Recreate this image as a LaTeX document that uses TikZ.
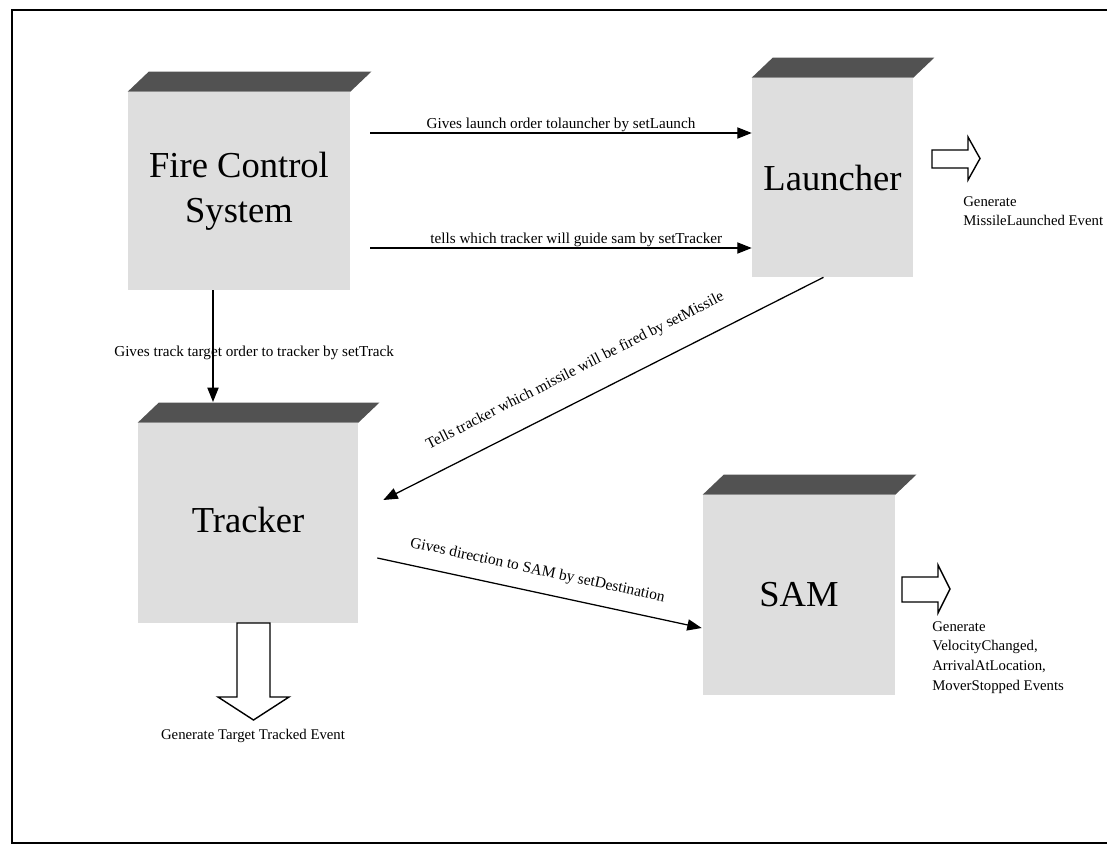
\documentclass[tikz,border=0pt]{standalone}
\usepackage{fontspec}
\setmainfont{Liberation Serif}
\usetikzlibrary{arrows.meta,positioning,calc}
\tikzset{
  blk style/.style={rectangle, fill=black!13, inner sep=0pt, align=center,
    font=\fontsize{26}{32}\selectfont},
  slab style/.style={fill=black!68},
  arr style/.style={-{Triangle[length=3.6mm,width=2.8mm]}, line width=0.9pt},
  lbl style/.style={font=\fontsize{10.8}{13}\selectfont, inner sep=0.5pt},
  hollow style/.style={draw, fill=white, line width=1pt, line join=miter},
  evt style/.style={font=\fontsize{10.5}{14}\selectfont, align=left, inner sep=0pt}
}
\begin{document}
\begin{tikzpicture}[x=0.025cm, y=-0.025cm]
\useasboundingbox (0,0) rectangle (1107,860);
% frame
\draw[line width=1pt] (1107,10) -- (12,10) -- (12,843) -- (1107,843);
% blocks
\node[blk style, minimum width=5.55cm, minimum height=4.95cm] (fcs) at (239,191) {\raisebox{-5pt}{\begin{tabular}{@{}c@{}}Fire Control\\System\end{tabular}}};
\node[blk style, minimum width=4.025cm, minimum height=4.975cm] (lnch) at (832.5,177.5) {Launcher};
\node[blk style, minimum width=5.5cm, minimum height=5cm] (trk) at (248,523) {\raisebox{4pt}{Tracker}};
\node[blk style, minimum width=4.8cm, minimum height=5cm] (sam) at (799,595) {SAM};
\foreach \n in {fcs,lnch,trk,sam}
  \fill[slab style] (\n.north west) -- ++(21,-20) -- ($(\n.north east)+(21,-20)$) -- (\n.north east) -- cycle;
% connector ends
\coordinate (l1) at ($(fcs.east)+(20,-58)$);
\coordinate (l2) at ($(fcs.east)+(20,57)$);
\coordinate (trktop) at (213,402);
\coordinate (lnchout) at ($(lnch.south)+(-9,0)$);
\coordinate (trkin) at ($(trk.east)+(25,-23)$);
\coordinate (trkout) at ($(trk.east)+(19,35)$);
\coordinate (samin) at ($(sam.west)+(-1,33)$);
% connectors
\draw[arr style] (l1) -- (l1 -| lnch.west) node[lbl style, midway, above]{Gives launch order tolauncher by setLaunch};
\draw[arr style] (l2) -- (l2 -| lnch.west) node[lbl style, pos=0.54, above]{tells which tracker will guide sam by setTracker};
\draw[arr style] (fcs.south -| trktop) -- (trktop) node[lbl style, pos=0.56, anchor=west, xshift=-2.5cm]{Gives track target order to tracker by setTrack};
\draw[arr style] (lnchout) -- (trkin) node[lbl style, font=\fontsize{11}{13}\selectfont, pos=0.535, sloped, above=0.5cm]{Tells tracker which missile will be fired by setMissile};
\draw[arr style] (trkout) -- (samin) node[lbl style, font=\fontsize{11}{13}\selectfont, pos=0.48, sloped, above=0.32cm]{Gives direction to SAM by setDestination};
% generated events
\draw[hollow style] (932,150) -- (968,150) -- (968,137) -- (980,158.5) -- (968,180) -- (968,168) -- (932,168) -- cycle;
\draw[hollow style] (902,577) -- (938,577) -- (938,565) -- (950,589) -- (938,613) -- (938,602) -- (902,602) -- cycle;
\draw[hollow style] (237,623) -- (237,697) -- (218,697) -- (253.5,720) -- (289,697) -- (270,697) -- (270,623) -- cycle;
\node[evt style, anchor=north west] (lnchevt) at (963,196) {Generate\\MissileLaunched Event};
\node[evt style, anchor=north west] (samevt) at (932,621) {Generate\\VelocityChanged,\\ArrivalAtLocation,\\MoverStopped Events};
\node[evt style] (trkevt) at (253,736) {Generate Target Tracked Event};
\end{tikzpicture}
\end{document}
